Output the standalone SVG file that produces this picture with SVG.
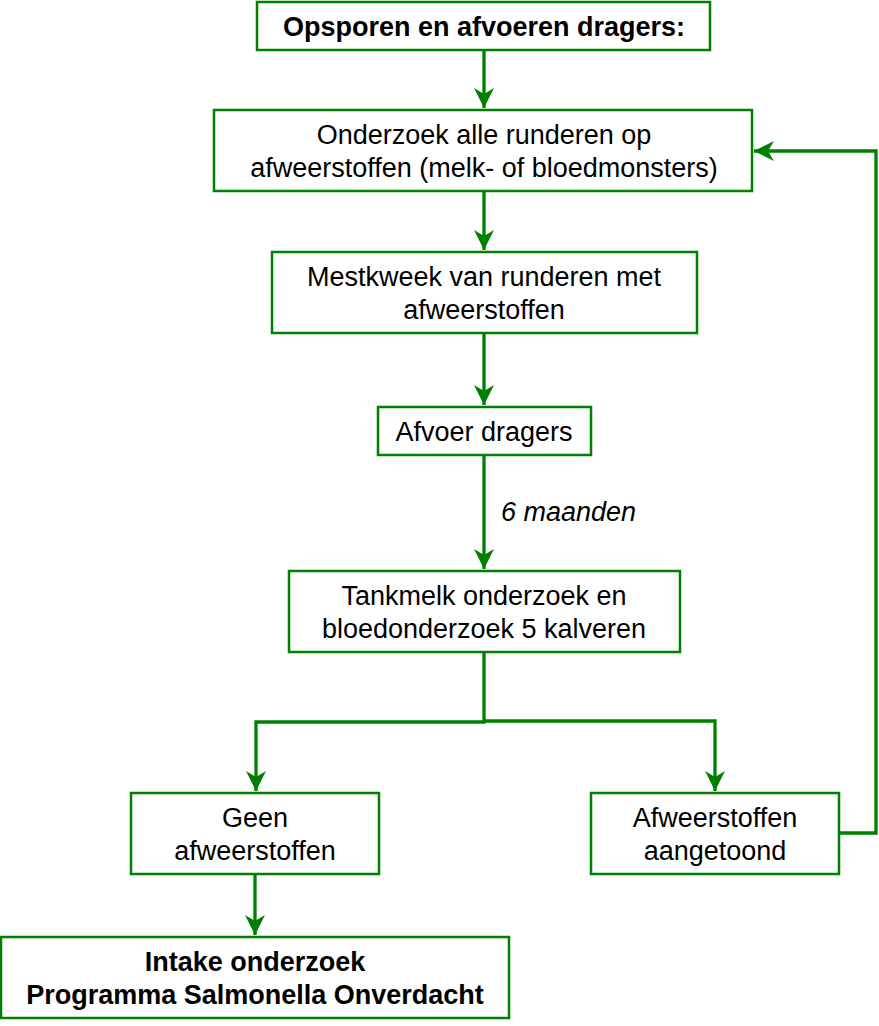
<svg xmlns="http://www.w3.org/2000/svg" width="879" height="1026" viewBox="0 0 879 1026">
<style>
.box{fill:#fff;stroke:#008000;stroke-width:2.5}
.t{font-family:"Liberation Sans",Arial,sans-serif;font-size:27px;fill:#000;text-anchor:middle}
.b{font-weight:bold}
.c{fill:none;stroke:#008000;stroke-width:3.3}
</style>
<defs>
<marker id="arr" markerUnits="userSpaceOnUse" markerWidth="22" markerHeight="22" refX="20" refY="10" orient="auto">
<path d="M0,0 L20,10 L0,20 L6,10 Z" fill="#008000"/>
</marker>
</defs>
<rect width="879" height="1026" fill="#fff"/>
<g id="connectors">
<path class="c" d="M484,50 V108" marker-end="url(#arr)"/>
<path class="c" d="M484,191 V250" marker-end="url(#arr)"/>
<path class="c" d="M484,333 V405" marker-end="url(#arr)"/>
<path class="c" d="M484,455 V569" marker-end="url(#arr)"/>
<path class="c" d="M484,652 V722 H256 V791" marker-end="url(#arr)"/>
<path class="c" d="M484,721 H715 V791" marker-end="url(#arr)"/>
<path class="c" d="M255,874 V935" marker-end="url(#arr)"/>
<path class="c" d="M839,833 H876 V151 H754" marker-end="url(#arr)"/>
</g>
<g id="n1"><rect class="box" x="257" y="2" width="453" height="48"/><text class="t b" x="484" y="35.5">Opsporen en afvoeren dragers:</text></g>
<g id="n2"><rect class="box" x="214" y="110" width="538" height="81"/><text class="t" x="484" y="143.5">Onderzoek alle runderen op</text><text class="t" x="484" y="176.5">afweerstoffen (melk- of bloedmonsters)</text></g>
<g id="n3"><rect class="box" x="272" y="252" width="425" height="81"/><text class="t" x="484" y="285.5">Mestkweek van runderen met</text><text class="t" x="484" y="318.5">afweerstoffen</text></g>
<g id="n4"><rect class="box" x="378" y="407" width="213" height="48"/><text class="t" x="484" y="440.5">Afvoer dragers</text></g>
<g id="lbl"><text class="t" x="501" y="521" style="text-anchor:start;font-style:italic">6 maanden</text></g>
<g id="n5"><rect class="box" x="289" y="571" width="391" height="81"/><text class="t" x="484" y="604.5">Tankmelk onderzoek en</text><text class="t" x="484" y="637.5">bloedonderzoek 5 kalveren</text></g>
<g id="n6"><rect class="box" x="131" y="793" width="248" height="81"/><text class="t" x="255" y="826.5">Geen</text><text class="t" x="255" y="859.5">afweerstoffen</text></g>
<g id="n7"><rect class="box" x="591" y="793" width="248" height="81"/><text class="t" x="715" y="826.5">Afweerstoffen</text><text class="t" x="715" y="859.5">aangetoond</text></g>
<g id="n8"><rect class="box" x="1" y="937" width="508" height="81"/><text class="t b" x="255" y="970.5">Intake onderzoek</text><text class="t b" x="255" y="1003.5">Programma Salmonella Onverdacht</text></g>
</svg>
